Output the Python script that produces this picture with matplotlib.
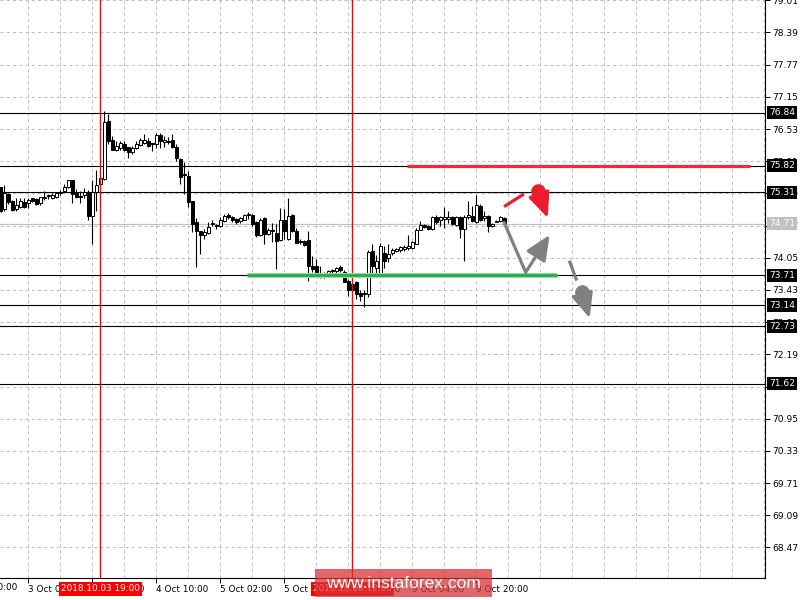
import matplotlib
matplotlib.use('Agg')
import matplotlib.pyplot as plt
import matplotlib.transforms as mtrans
from matplotlib.patches import Rectangle

# ---------------- data (H1 candles, bar index 0..126) ----------------
opens = [75.41, 74.98, 75.28, 75.15, 74.98, 75.02, 75.12, 75.10, 75.20, 75.18,
         75.10, 75.21, 75.24, 75.20, 75.23, 75.30, 75.33, 75.41, 75.54, 75.29,
         75.24, 75.25, 75.31, 74.86, 75.32, 75.47, 75.56, 76.69, 76.32, 76.13,
         76.16, 76.24, 76.18, 76.08, 76.16, 76.22, 76.27, 76.29, 76.25, 76.24,
         76.42, 76.28, 76.29, 76.31, 76.18, 75.95, 75.66, 75.63, 75.14, 74.73,
         74.57, 74.48, 74.52, 74.70, 74.67, 74.67, 74.75, 74.88, 74.84, 74.80,
         74.75, 74.78, 74.87, 74.88, 74.73, 74.49, 74.81, 74.50, 74.57, 74.53,
         74.40, 74.77, 74.41, 74.88, 74.57, 74.36, 74.38, 74.40, 73.90, 73.89,
         73.76, 73.74, 73.74, 73.80, 73.79, 73.88, 73.77, 73.61, 73.55, 73.58,
         73.38, 73.35, 73.35, 74.18, 73.85, 73.72, 74.14, 74.05, 74.14, 74.19,
         74.20, 74.22, 74.23, 74.24, 74.32, 74.59, 74.69, 74.67, 74.61, 74.84,
         74.77, 74.79, 74.79, 74.84, 74.68, 74.83, 74.61, 74.83, 74.86, 74.73,
         75.05, 74.81, 74.86, 74.66, 74.74, 74.75, 74.82]
highs = [75.42, 75.46, 75.30, 75.17, 75.21, 75.20, 75.20, 75.21, 75.21, 75.21,
         75.23, 75.34, 75.28, 75.29, 75.31, 75.36, 75.47, 75.55, 75.55, 75.38,
         75.33, 75.40, 75.36, 75.54, 75.75, 75.60, 76.88, 76.82, 76.40, 76.30,
         76.29, 76.29, 76.19, 76.21, 76.30, 76.35, 76.43, 76.35, 76.27, 76.45,
         76.45, 76.39, 76.37, 76.44, 76.25, 75.97, 75.89, 75.73, 75.15, 74.82,
         74.57, 74.60, 74.73, 74.77, 74.70, 74.84, 74.89, 74.92, 74.86, 74.81,
         74.84, 74.90, 74.94, 74.90, 74.75, 74.81, 74.83, 74.63, 74.72, 74.71,
         75.00, 74.99, 75.20, 74.90, 74.63, 74.41, 74.40, 74.57, 74.09, 74.03,
         73.90, 73.78, 73.82, 73.84, 73.88, 73.91, 73.82, 73.64, 73.58, 73.61,
         73.42, 73.42, 74.20, 74.32, 74.10, 74.33, 74.28, 74.32, 74.23, 74.24,
         74.27, 74.29, 74.48, 74.37, 74.62, 74.76, 74.71, 74.69, 74.86, 74.87,
         74.86, 75.02, 74.95, 74.85, 74.86, 74.85, 74.87, 75.15, 75.04, 75.26,
         75.08, 74.96, 74.87, 74.72, 74.77, 74.85, 74.84]
lows = [74.93, 74.96, 75.09, 74.95, 74.95, 75.01, 75.01, 75.01, 75.13, 75.06,
        75.06, 75.17, 75.19, 75.18, 75.21, 75.25, 75.31, 75.40, 75.10, 75.20,
        75.10, 75.20, 74.78, 74.32, 74.95, 75.45, 75.55, 76.25, 76.12, 76.11,
        76.13, 76.11, 75.98, 76.04, 76.15, 76.20, 76.25, 76.19, 76.10, 76.17,
        76.17, 76.19, 76.25, 76.17, 75.92, 75.47, 75.28, 75.02, 74.54, 73.87,
        74.13, 74.41, 74.51, 74.66, 74.61, 74.64, 74.73, 74.80, 74.74, 74.70,
        74.72, 74.77, 74.80, 74.66, 74.45, 74.47, 74.32, 74.48, 74.36, 73.84,
        74.38, 74.41, 74.40, 74.54, 74.34, 74.31, 74.27, 73.61, 73.77, 73.77,
        73.67, 73.67, 73.70, 73.75, 73.74, 73.77, 73.58, 73.32, 73.40, 73.25,
        73.22, 73.10, 73.30, 73.71, 73.72, 73.71, 73.85, 73.96, 74.10, 74.17,
        74.16, 74.19, 74.20, 74.22, 74.31, 74.58, 74.62, 74.58, 74.58, 74.71,
        74.67, 74.63, 74.72, 74.68, 74.67, 74.43, 73.98, 74.80, 74.73, 74.72,
        74.76, 74.76, 74.55, 74.65, 74.73, 74.74, 74.70]
closes = [74.96, 75.30, 75.12, 74.97, 75.06, 75.14, 75.02, 75.16, 75.15, 75.09,
          75.22, 75.23, 75.25, 75.26, 75.30, 75.31, 75.41, 75.54, 75.28, 75.23,
          75.23, 75.31, 74.86, 75.31, 75.46, 75.59, 76.67, 76.30, 76.13, 76.21,
          76.26, 76.13, 76.08, 76.16, 76.25, 76.31, 76.31, 76.20, 76.24, 76.42,
          76.30, 76.32, 76.28, 76.18, 75.97, 75.60, 75.64, 75.12, 74.71, 74.57,
          74.48, 74.55, 74.65, 74.71, 74.66, 74.78, 74.86, 74.83, 74.77, 74.73,
          74.82, 74.88, 74.89, 74.70, 74.48, 74.78, 74.51, 74.59, 74.58, 74.38,
          74.77, 74.57, 74.86, 74.56, 74.34, 74.35, 74.29, 73.90, 73.83, 73.78,
          73.74, 73.72, 73.80, 73.82, 73.86, 73.82, 73.59, 73.42, 73.43, 73.35,
          73.32, 73.35, 74.17, 73.90, 73.99, 74.28, 73.99, 74.12, 74.20, 74.21,
          74.25, 74.26, 74.28, 74.35, 74.59, 74.69, 74.65, 74.61, 74.84, 74.73,
          74.83, 74.84, 74.84, 74.70, 74.84, 74.61, 74.83, 74.88, 74.75, 75.07,
          74.78, 74.86, 74.67, 74.70, 74.75, 74.83, 74.71]

price_ticks = [79.01, 78.39, 77.77, 77.15, 76.53, 75.91, 75.29, 74.67, 74.05,
               73.43, 72.81, 72.19, 71.57, 70.95, 70.33, 69.71, 69.09, 68.47]
level_prices = [76.84, 75.82, 75.31, 73.71, 73.14, 72.73, 71.62]
current_price = 74.71

time_tick_bars = [7, 23, 39, 55, 71, 87, 103, 119]
time_tick_labels = ["3 Oct 02:00", "3 Oct 18:00", "4 Oct 10:00", "5 Oct 02:00",
                    "5 Oct 18:00", "8 Oct 12:00", "9 Oct 04:00", "9 Oct 20:00"]
first_tick_bar = -9
first_tick_label = "2 Oct 10:00"
grid_bars = list(range(7, 192, 8))

vline_bars = [25, 88]
vline_labels = ["2018.10.03 19:00", "2018.10.08 12:00"]

resistance_price = 75.82
resistance_span = [101.6, 187.4]
support_price = 73.71
support_span = [61.6, 139.1]

# forecast sketches (bar index, price)
red_seg_x = [125.9, 130.9]
red_seg_y = [75.035, 75.28]
red_dot = (134.3, 75.344)
red_tip = (136.8, 74.82)
gray_path_x = [125.9, 131.3]
gray_path_y = [74.73, 73.77]
gray_tip = (137.3, 74.49)
gray_dash_x = [142.2, 144.05]
gray_dash_y = [73.995, 73.61]
gray_dot = (145.3, 73.385)
gray_tip2 = (147.3, 72.89)

# ---------------- figure ----------------
W, H = 808, 600
fig = plt.figure(figsize=(W / 100, H / 100), dpi=100)
ax = fig.add_axes([0, 22 / H, 765 / W, 578 / H])
ax.set_xlim(-0.125, 191.125)
ax.set_ylim(67.882, 79.015)

for s in ['left', 'top']:
    ax.spines[s].set_visible(False)
for s in ['right', 'bottom']:
    ax.spines[s].set_color('black')
    ax.spines[s].set_linewidth(0.8)

grid_col = '#c0c0c0'
for b in grid_bars:
    ax.axvline(b, color=grid_col, lw=0.75, ls=(0, (3, 3)), zorder=0.5)
for p in price_ticks:
    ax.axhline(p, color=grid_col, lw=0.75, ls=(0, (3, 3)), zorder=0.5)

# horizontal levels
ax.axhline(current_price, color='#c0c0c0', lw=0.9, zorder=0.8)
for p in level_prices:
    ax.axhline(p, color='black', lw=0.8, zorder=1)

# candles
xs = list(range(len(opens)))
ax.vlines(xs, lows, highs, color='black', lw=0.8, zorder=2)
bottoms = [min(o, c) for o, c in zip(opens, closes)]
heights = [max(abs(c - o), 0.014) for o, c in zip(opens, closes)]
faces = ['white' if c > o else 'black' for o, c in zip(opens, closes)]
ax.bar(xs, heights, bottom=bottoms, width=0.68, color=faces,
       edgecolor='black', linewidth=0.7, zorder=3)

# vertical red lines
for b in vline_bars:
    ax.axvline(b, color='#ff0000', lw=1.0, zorder=4)

# resistance / support
ax.plot(resistance_span, [resistance_price] * 2, color='#ee2a3c', lw=2.3,
        solid_capstyle='butt', zorder=4)
ax.plot(support_span, [support_price] * 2, color='#9bd8a8', lw=3.6,
        solid_capstyle='butt', zorder=4)
ax.plot(support_span, [support_price] * 2, color='#22ac4a', lw=2.0,
        solid_capstyle='butt', zorder=4.1)

arrow_style = '-|>,head_length=0.95,head_width=0.42'

# forecast sketch - red
red = '#ec1c2c'
ax.plot(red_seg_x, red_seg_y, color=red, lw=2.3, solid_capstyle='butt', zorder=5)
ax.plot([red_dot[0]], [red_dot[1]], 'o', color=red, ms=9.5, zorder=5)
ax.annotate('', xy=red_tip, xytext=red_dot,
            arrowprops=dict(arrowstyle=arrow_style, color=red, lw=2.3,
                            mutation_scale=16, shrinkA=0, shrinkB=0), zorder=5)

# forecast sketch - gray
gray = '#808080'
ax.plot(gray_path_x, gray_path_y, color=gray, lw=2.3, solid_capstyle='round', zorder=5)
ax.annotate('', xy=gray_tip, xytext=(gray_path_x[1], gray_path_y[1]),
            arrowprops=dict(arrowstyle=arrow_style, color=gray, lw=2.3,
                            mutation_scale=16, shrinkA=0, shrinkB=0), zorder=5)
ax.plot(gray_dash_x, gray_dash_y, color=gray, lw=2.3, solid_capstyle='butt', zorder=5)
ax.plot([gray_dot[0]], [gray_dot[1]], 'o', color=gray, ms=9.5, zorder=5)
ax.annotate('', xy=gray_tip2, xytext=gray_dot,
            arrowprops=dict(arrowstyle=arrow_style, color=gray, lw=2.3,
                            mutation_scale=16, shrinkA=0, shrinkB=0), zorder=5)

# axes ticks
ax.yaxis.tick_right()
ax.set_yticks(price_ticks)
ax.set_yticklabels([f'{p:.2f}' for p in price_ticks])
ax.tick_params(axis='y', direction='out', length=3.5, width=0.7, labelsize=6.6,
               pad=1.5, colors='black')
ax.set_xticks(time_tick_bars)
ax.set_xticklabels(time_tick_labels, ha='left')
ax.tick_params(axis='x', direction='out', length=3.5, width=0.7, labelsize=6.4,
               pad=1.5, colors='black')

xtr = mtrans.blended_transform_factory(ax.transData, ax.transAxes)
ax.text(first_tick_bar, -0.0085, first_tick_label, transform=xtr, ha='left',
        va='top', fontsize=6.4, clip_on=False)

# level labels on price axis
ytr = mtrans.blended_transform_factory(ax.transAxes, ax.transData)
for p in level_prices:
    ax.text(1.0055, p, f'{p:.2f}', transform=ytr, ha='left', va='center',
            fontsize=6.6, color='white', clip_on=False, zorder=10,
            bbox=dict(boxstyle='square,pad=0.22', fc='black', ec='none'))
ax.text(1.0055, current_price, f'{current_price:.2f}', transform=ytr, ha='left',
        va='center', fontsize=6.6, color='white', clip_on=False, zorder=10,
        bbox=dict(boxstyle='square,pad=0.22', fc='#c0c0c0', ec='none'))

# red time labels
for b, lab in zip(vline_bars, vline_labels):
    ax.text(b, -0.019, lab, transform=xtr, ha='center', va='center',
            fontsize=6.4, color='white', clip_on=False, zorder=10,
            bbox=dict(boxstyle='square,pad=0.25', fc='#ff0000', ec='none'))

# watermark
fig.patches.append(Rectangle((315 / W, 3 / H), 177 / W, 28 / H,
                             transform=fig.transFigure, facecolor=(0.84, 0.2, 0.22),
                             alpha=0.75, edgecolor='none', zorder=20))
fig.text(403 / W, 17 / H, 'www.instaforex.com', ha='center', va='center',
         fontsize=12.5, color='white', family='Liberation Sans', zorder=21)

fig.savefig('out.png', dpi=100)
